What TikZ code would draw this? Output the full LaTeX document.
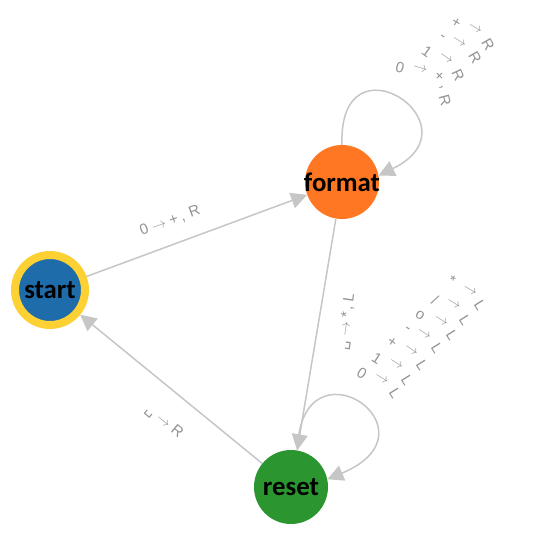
\documentclass[tikz,border=0pt]{standalone}
\usepackage{fontspec}
\setmainfont{Carlito}
\newfontfamily\lblfont{Liberation Sans}
\newfontfamily\symfont{DejaVu Sans}
\usetikzlibrary{arrows.meta}
\definecolor{edgec}{HTML}{C6C6C6}
\definecolor{lblc}{HTML}{939393}
\definecolor{sblue}{HTML}{1F6CAB}
\definecolor{syellow}{HTML}{FDD034}
\definecolor{forange}{HTML}{FF7722}
\definecolor{rgreen}{HTML}{2B962F}
\newcounter{glc}
\newcommand\gl[4]{\stepcounter{glc}\node[lbl,rotate=#3] (g\arabic{glc}) at (#1,#2) {#4};}
\newcommand\arr{$\rightarrow$}
\newcommand\vsp{{\symfont\char"2423}}
\begin{document}
\begin{tikzpicture}[x=1pt,y=-1pt,
  state/.style={circle, inner sep=0pt, text=black, font=\bfseries\fontsize{26.8}{26.8}\selectfont},
  edge/.style={draw=edgec, line width=1.5pt, -{Triangle[length=16pt,width=16pt]}},
  lbl/.style={text=lblc, inner sep=0pt, font=\lblfont\fontsize{15}{15}\selectfont}]
\useasboundingbox (0,0) rectangle (537,547);
% states
\node[state, fill=sblue, draw=syellow, line width=8pt, minimum size=70pt] (start) at (50,290) {\makebox[0pt]{start}};
\node[state, fill=forange, minimum size=74pt] (format) at (342,182) {\makebox[0pt]{format}};
\node[state, fill=rgreen, minimum size=74pt] (reset) at (291,487) {\makebox[0pt]{reset}};
% edges
\draw[edge] (start) -- (format);
\draw[edge] (format) -- (reset);
\draw[edge] (reset) -- (start);
\draw[edge] (format.90) .. controls (338,30) and (482,125) .. (format.10);
\draw[edge] (reset.80) .. controls (300,333) and (445,430) .. (reset.12);
% edge labels
\node[lbl, rotate=20] (lsf) at (170,221) {0 \arr{} +\hspace{3pt},\hspace{5pt}R};
\node[lbl, rotate=82] (lfr) at (347,322) {\vsp{} \arr{} *\hspace{2pt},\hspace{4pt}L};
\node[lbl, rotate=-39.5] (lrs) at (164,422) {\vsp{} \arr{} R};
% format loop labels
\gl{456}{23}{-30}{+}\gl{475}{29}{-30}{\arr}\gl{488}{45}{-60}{R}
\gl{442}{38}{-33}{-}\gl{459}{42.5}{-33}{\arr}\gl{475}{58}{-60}{R}
\gl{427}{52}{-35}{1}\gl{446}{58}{-35}{\arr}\gl{458}{75}{-65}{R}
\gl{400}{68}{-15}{0}\gl{420}{69.5}{-17}{\arr}\gl{439}{77}{-45}{+}\gl{441}{88}{-70}{,}\gl{445}{100}{-75}{R}
% reset loop labels
\gl{362}{373}{-32}{0}\gl{381.5}{379}{-32}{\arr}\gl{395}{393}{-58}{L}
\gl{377}{358}{-33}{1}\gl{396}{364}{-33}{\arr}\gl{407}{380}{-58}{L}
\gl{392}{342}{-35}{+}\gl{411}{350}{-35}{\arr}\gl{422}{365}{-58}{L}
\gl{407}{330}{-33}{-}\gl{424}{334}{-33}{\arr}\gl{437}{348}{-58}{L}
\gl{420}{315}{-32}{o}\gl{441}{321}{-32}{\arr}\gl{452}{335}{-58}{L}
\gl{435}{300}{-32}{/}\gl{453.5}{304}{-32}{\arr}\gl{465}{320}{-58}{L}
\gl{452}{280}{-30}{*}\gl{470}{291}{-30}{\arr}\gl{480}{305}{-58}{L}
\end{tikzpicture}
\end{document}
